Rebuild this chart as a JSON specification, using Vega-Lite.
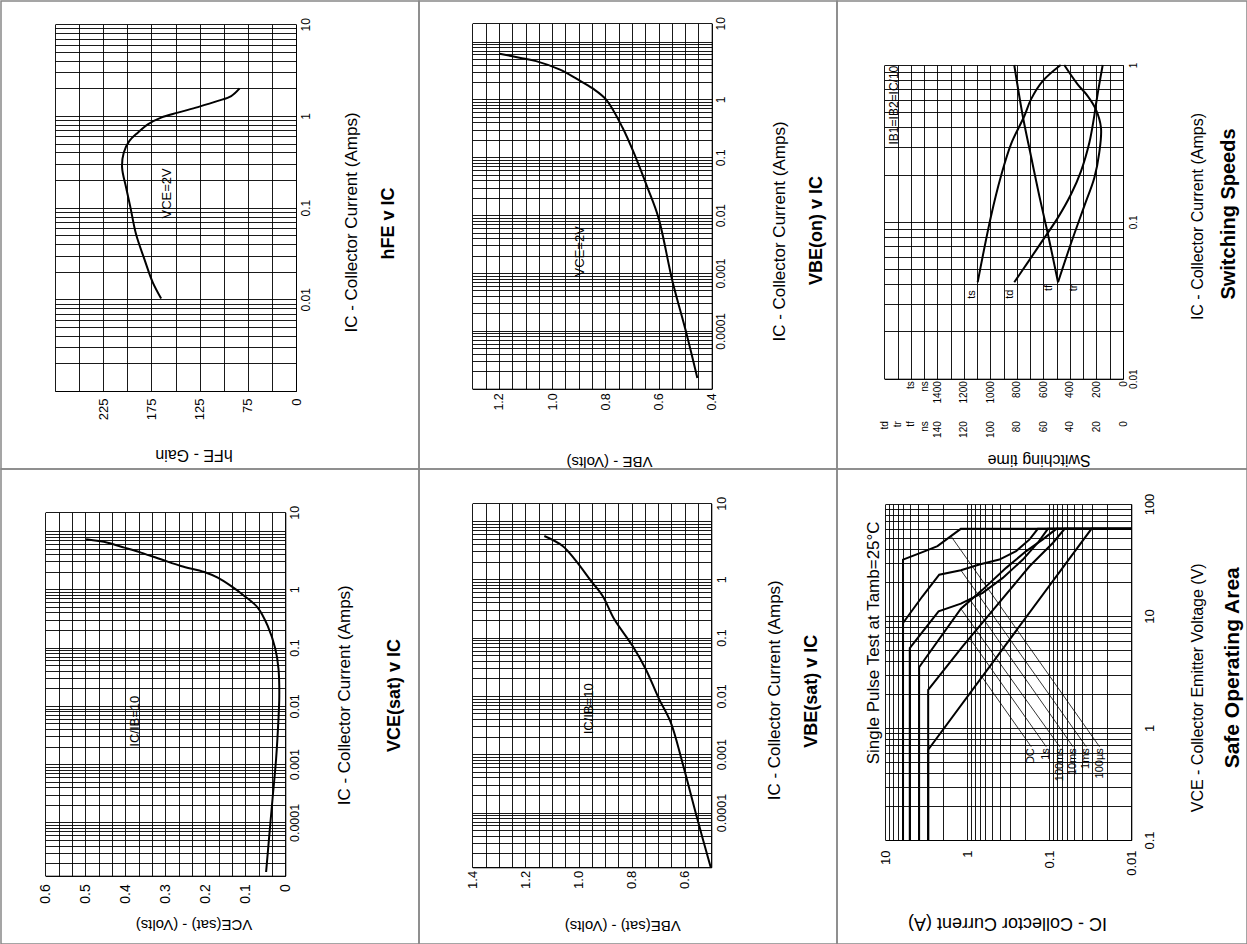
{
"$schema": "https://vega.github.io/schema/vega-lite/v6.json",
"padding": 0,
"background": "white",
"config": {
  "font": "Liberation Sans",
  "view": {"stroke": "#888888", "strokeWidth": 1.5},
  "axis": {"labelFont": "Liberation Sans", "titleFont": "Liberation Sans", "labelColor": "#000", "titleColor": "#000", "titleFontWeight": "normal", "ticks": false, "tickSize": 0, "domainColor": "#000", "domainWidth": 1, "gridColor": "#000", "gridOpacity": 1, "gridWidth": 0.9, "labelOverlap": false, "labelFlush": false, "titleAlign": "center", "titleBaseline": "middle"},
  "axisRight": {"labelAngle": 270, "labelAlign": "center", "labelBaseline": "top", "titleAngle": 270},
  "axisBottom": {"labelAngle": 270, "labelAlign": "right", "labelBaseline": "middle", "titleAngle": 180},
  "axisLeft": {"labels": false, "domain": false, "titleAngle": 270, "titleFontWeight": "bold"},
  "axisTop": {"labels": false, "domain": false, "titleAngle": 270, "titleFontWeight": "bold"},
  "text": {"font": "Liberation Sans", "color": "#000"}
},
"columns": 3,
"spacing": 0,
"bounds": "flush",
"concat": [
{
  "width": 418, "height": 468,
  "layer": [
    {
      "data": {"values": [
        {"Ic": 0.0102, "hFE": 164.9}, {"Ic": 0.0152, "hFE": 173.5}, {"Ic": 0.0273, "hFE": 182.2}, {"Ic": 0.0512, "hFE": 190.9},
        {"Ic": 0.1, "hFE": 196.7}, {"Ic": 0.165, "hFE": 201.2}, {"Ic": 0.273, "hFE": 205.4}, {"Ic": 0.398, "hFE": 203.7},
        {"Ic": 0.534, "hFE": 197.8}, {"Ic": 0.658, "hFE": 189.1}, {"Ic": 0.811, "hFE": 178.7}, {"Ic": 0.959, "hFE": 164.9},
        {"Ic": 1.087, "hFE": 147.6}, {"Ic": 1.25, "hFE": 126.8}, {"Ic": 1.46, "hFE": 106.0}, {"Ic": 1.65, "hFE": 92.2}, {"Ic": 2.0, "hFE": 83.5}
      ]},
      "mark": {"type": "line", "strokeWidth": 2, "interpolate": "catmull-rom", "color": "#000"},
      "encoding": {
        "x": {"field": "hFE", "type": "quantitative",
          "scale": {"domain": [25, 275], "range": [295, 54], "nice": false, "zero": false},
          "axis": {"orient": "bottom", "offset": -78, "grid": false, "labelOverlap": false,
            "values": [25, 75, 125, 175, 225],
            "labelExpr": "datum.value == 25 ? '0' : format(datum.value, 'd')",
            "labelFontSize": 13, "labelPadding": 7,
            "title": "hFE - Gain", "titleFontSize": 16, "titleX": 192.5, "titleY": 63.3}},
        "y": {"field": "Ic", "type": "quantitative",
          "scale": {"type": "log", "domain": [0.001, 10], "range": [390, 23.3], "nice": false},
          "axis": {"orient": "right", "offset": -123, "grid": false, "labelOverlap": false,
            "values": [0.01, 0.1, 1, 10],
            "labelExpr": "format(datum.value, '~g')",
            "labelFontSize": 12, "labelPadding": 4,
            "title": "IC - Collector Current (Amps)", "titleFontSize": 17, "titleX": 55.7, "titleY": 221}},
        "order": {"field": "Ic", "type": "quantitative"}
      }
    },
    {
      "data": {"values": [{"hFE": 159.1, "Ic": 0.143, "t": "VCE=2V"}]},
      "mark": {"type": "text", "angle": 270, "fontSize": 13, "align": "center", "baseline": "middle"},
      "encoding": {
        "x": {"field": "hFE", "type": "quantitative", "scale": {"domain": [25, 275], "range": [295, 54], "nice": false, "zero": false},
          "axis": {"orient": "top", "grid": true, "title": null, "values": [25, 50, 75, 100, 125, 150, 175, 200, 225, 250, 275]}},
        "y": {"field": "Ic", "type": "quantitative", "scale": {"type": "log", "domain": [0.001, 10], "range": [390, 23.3], "nice": false},
          "axis": {"orient": "left", "grid": true,
            "values": [0.001,0.002,0.003,0.004,0.005,0.006,0.007,0.008,0.009,0.01,0.02,0.03,0.04,0.05,0.06,0.07,0.08,0.09,0.1,0.2,0.3,0.4,0.5,0.6,0.7,0.8,0.9,1,2,3,4,5,6,7,8,9,10],
            "title": "hFE v IC", "titleFontSize": 18, "titleX": 387.3, "titleY": 222}},
        "text": {"field": "t"}
      }
    }
  ],
  "resolve": {"axis": {"x": "independent", "y": "independent"}}
},
{
  "width": 418, "height": 468,
  "layer": [
    {
      "data": {"values": [
        {"Ic": 1.53e-5, "V": 0.454}, {"Ic": 1e-4, "V": 0.4975}, {"Ic": 7.2e-4, "V": 0.5475}, {"Ic": 0.00897, "V": 0.6},
        {"Ic": 0.0296, "V": 0.641}, {"Ic": 0.098, "V": 0.685}, {"Ic": 0.324, "V": 0.735}, {"Ic": 1.0, "V": 0.7975},
        {"Ic": 1.55, "V": 0.8475}, {"Ic": 2.22, "V": 0.904}, {"Ic": 3.3, "V": 0.9725}, {"Ic": 4.6, "V": 1.06},
        {"Ic": 5.26, "V": 1.1225}, {"Ic": 6.17, "V": 1.1975}
      ]},
      "mark": {"type": "line", "strokeWidth": 2, "interpolate": "catmull-rom", "color": "#000"},
      "encoding": {
        "x": {"field": "V", "type": "quantitative",
          "scale": {"domain": [0.4, 1.3], "range": [292.7, 53.3], "nice": false, "zero": false},
          "axis": {"orient": "bottom", "offset": -80.3, "grid": false, "labelOverlap": false,
            "values": [0.4, 0.6, 0.8, 1, 1.2],
            "labelExpr": "format(datum.value, '.1f')",
            "labelFontSize": 12.5, "labelPadding": 4,
            "title": "VBE - (Volts)", "titleFontSize": 15, "titleX": 190, "titleY": 72.3}},
        "y": {"field": "Ic", "type": "quantitative",
          "scale": {"type": "log", "domain": [1e-5, 20.7], "range": [387.7, 22.3], "nice": false},
          "axis": {"orient": "right", "offset": -125.3, "grid": false, "labelOverlap": false,
            "values": [0.0001, 0.001, 0.01, 0.1, 1, 20.7],
            "labelExpr": "datum.value == 20.7 ? '10' : format(datum.value, '~g')",
            "labelFontSize": 12, "labelPadding": 4,
            "title": "IC - Collector Current (Amps)", "titleFontSize": 17, "titleX": 67.8, "titleY": 230}},
        "order": {"field": "Ic", "type": "quantitative"}
      }
    },
    {
      "data": {"values": [{"V": 0.895, "Ic": 0.00237, "t": "VCE=2V"}]},
      "mark": {"type": "text", "angle": 270, "fontSize": 13, "align": "center", "baseline": "middle"},
      "encoding": {
        "x": {"field": "V", "type": "quantitative", "scale": {"domain": [0.4, 1.3], "range": [292.7, 53.3], "nice": false, "zero": false},
          "axis": {"orient": "top", "grid": true, "title": null, "values": [0.4,0.45,0.5,0.55,0.6,0.65,0.7,0.75,0.8,0.85,0.9,0.95,1,1.05,1.1,1.15,1.2,1.25,1.3]}},
        "y": {"field": "Ic", "type": "quantitative", "scale": {"type": "log", "domain": [1e-5, 20.7], "range": [387.7, 22.3], "nice": false},
          "axis": {"orient": "left", "grid": true,
            "values": [1e-5,2e-5,3e-5,4e-5,5e-5,6e-5,7e-5,8e-5,9e-5,0.0001,0.0002,0.0003,0.0004,0.0005,0.0006,0.0007,0.0008,0.0009,0.001,0.002,0.003,0.004,0.005,0.006,0.007,0.008,0.009,0.01,0.02,0.03,0.04,0.05,0.06,0.07,0.08,0.09,0.1,0.2,0.3,0.4,0.5,0.6,0.7,0.8,0.9,1,2,3,4,5,6,7,8,9,10,20.7],
            "title": "VBE(on) v IC", "titleFontSize": 18, "titleX": 397.5, "titleY": 229}},
        "text": {"field": "t"}
      }
    }
  ],
  "resolve": {"axis": {"x": "independent", "y": "independent"}}
},
{
  "width": 410, "height": 468,
  "layer": [
    {
      "layer": [
        {
          "data": {"values": [
            {"Ic": 0.0412, "ns": 1096}, {"Ic": 0.109, "ns": 995}, {"Ic": 0.196, "ns": 920}, {"Ic": 0.312, "ns": 845},
            {"Ic": 0.473, "ns": 744}, {"Ic": 0.604, "ns": 694}, {"Ic": 0.79, "ns": 606}, {"Ic": 1, "ns": 470}
          ]},
          "mark": {"type": "line", "strokeWidth": 2, "interpolate": "catmull-rom", "color": "#000"},
          "encoding": {
            "x": {"field": "ns", "type": "quantitative",
              "scale": {"domain": [0, 1800], "range": [286, 47.3], "nice": false, "zero": false},
              "axis": {"orient": "bottom", "offset": -90.3, "grid": false, "labelOverlap": false,
                "values": [0, 200, 400, 600, 800, 1000, 1200, 1400, 1500, 1600],
                "labelExpr": "datum.value == 1500 ? 'ns' : datum.value == 1600 ? 'ts' : format(datum.value, 'd')",
                "labelFontSize": 10, "labelPadding": 2, "title": null}},
            "y": {"field": "Ic", "type": "quantitative",
              "scale": {"type": "log", "domain": [0.01, 1], "range": [377.7, 64], "nice": false},
              "axis": {"orient": "right", "offset": -124, "grid": false, "labelOverlap": false,
                "values": [0.01, 0.1, 1],
                "labelExpr": "format(datum.value, '~g')",
                "labelFontSize": 10, "labelPadding": 5,
                "title": "IC - Collector Current (Amps)", "titleFontSize": 16, "titleX": 74, "titleY": 215}},
            "order": {"field": "Ic", "type": "quantitative"}
          }
        },
        {
          "data": {"values": [
            {"ns": 1138, "Ic": 0.0344, "t": "ts", "fs": "small"},
            {"ns": 850, "Ic": 0.0346, "t": "td", "fs": "small"},
            {"ns": 560, "Ic": 0.0379, "t": "tf", "fs": "small"},
            {"ns": 372, "Ic": 0.0379, "t": "tr", "fs": "small"},
            {"ns": 1729, "Ic": 0.555, "t": "IB1=IB2=IC/10", "fs": "big"}
          ]},
          "mark": {"type": "text", "angle": 270, "align": "center", "baseline": "middle"},
          "encoding": {
            "x": {"field": "ns", "type": "quantitative", "scale": {"domain": [0, 1800], "range": [286, 47.3], "nice": false, "zero": false},
              "axis": {"orient": "top", "grid": true, "title": null, "values": [0,100,200,300,400,500,600,700,800,900,1000,1100,1200,1300,1400,1500,1600,1700,1800]}},
            "y": {"field": "Ic", "type": "quantitative", "scale": {"type": "log", "domain": [0.01, 1], "range": [377.7, 64], "nice": false}},
            "size": {"field": "fs", "type": "nominal", "scale": {"domain": ["small", "big"], "range": [11, 12]}, "legend": null},
            "text": {"field": "t"}
          }
        }
      ],
      "resolve": {"axis": {"x": "independent"}}
    },
    {
      "data": {"values": [
        {"s": "td", "Ic": 0.0412, "ns2": 82}, {"s": "td", "Ic": 0.055, "ns2": 71.9}, {"s": "td", "Ic": 0.079, "ns2": 59.3},
        {"s": "td", "Ic": 0.106, "ns2": 49.2}, {"s": "td", "Ic": 0.15, "ns2": 39.2}, {"s": "td", "Ic": 0.21, "ns2": 31.7},
        {"s": "td", "Ic": 0.319, "ns2": 25.4}, {"s": "td", "Ic": 0.45, "ns2": 22.1}, {"s": "td", "Ic": 0.56, "ns2": 20.4},
        {"s": "td", "Ic": 0.753, "ns2": 17.9}, {"s": "td", "Ic": 1, "ns2": 15.3},
        {"s": "tf", "Ic": 0.0412, "ns2": 49}, {"s": "tf", "Ic": 0.085, "ns2": 56.8}, {"s": "tf", "Ic": 0.146, "ns2": 63.1},
        {"s": "tf", "Ic": 0.263, "ns2": 69.4}, {"s": "tf", "Ic": 0.473, "ns2": 75.6}, {"s": "tf", "Ic": 1, "ns2": 82},
        {"s": "tr", "Ic": 0.0412, "ns2": 49}, {"s": "tr", "Ic": 0.073, "ns2": 39.2}, {"s": "tr", "Ic": 0.126, "ns2": 29.2},
        {"s": "tr", "Ic": 0.191, "ns2": 21.6}, {"s": "tr", "Ic": 0.276, "ns2": 17.9}, {"s": "tr", "Ic": 0.398, "ns2": 16.6},
        {"s": "tr", "Ic": 0.52, "ns2": 20.4}, {"s": "tr", "Ic": 0.634, "ns2": 26.6}, {"s": "tr", "Ic": 0.753, "ns2": 34.2},
        {"s": "tr", "Ic": 1, "ns2": 44.3}
      ]},
      "mark": {"type": "line", "strokeWidth": 2, "interpolate": "catmull-rom", "color": "#000"},
      "encoding": {
        "x": {"field": "ns2", "type": "quantitative",
          "scale": {"domain": [0, 180], "range": [286, 47.3], "nice": false, "zero": false},
          "axis": {"orient": "bottom", "offset": -50.3, "grid": false, "domain": false, "labelOverlap": false,
            "values": [0, 20, 40, 60, 80, 100, 120, 140, 150, 160, 170, 180],
            "labelExpr": "datum.value == 150 ? 'ns' : datum.value == 160 ? 'tf' : datum.value == 170 ? 'tr' : datum.value == 180 ? 'td' : format(datum.value, 'd')",
            "labelFontSize": 10, "labelPadding": 2,
            "title": "Switching time", "titleFontSize": 16, "titleX": 201.7, "titleY": 40.6}},
        "y": {"field": "Ic", "type": "quantitative",
          "scale": {"type": "log", "domain": [0.01, 1], "range": [377.7, 64], "nice": false},
          "axis": {"orient": "left", "grid": true,
            "values": [0.01,0.02,0.03,0.04,0.05,0.06,0.07,0.08,0.09,0.1,0.2,0.3,0.4,0.5,0.6,0.7,0.8,0.9,1],
            "title": "Switching Speeds", "titleFontSize": 20, "titleX": 391.7, "titleY": 212.5}},
        "detail": {"field": "s"},
        "order": {"field": "Ic", "type": "quantitative"}
      }
    }
  ],
  "resolve": {"scale": {"x": "independent"}, "axis": {"x": "independent", "y": "independent"}}
},
{
  "width": 418, "height": 475,
  "layer": [
    {
      "data": {"values": [
        {"Ic": 1.41e-5, "V": 0.048}, {"Ic": 6e-5, "V": 0.04}, {"Ic": 2.5e-4, "V": 0.032}, {"Ic": 1.23e-3, "V": 0.023},
        {"Ic": 5.25e-3, "V": 0.0175}, {"Ic": 0.015, "V": 0.015}, {"Ic": 0.043, "V": 0.017}, {"Ic": 0.095, "V": 0.025},
        {"Ic": 0.235, "V": 0.044}, {"Ic": 0.485, "V": 0.069}, {"Ic": 0.769, "V": 0.1025}, {"Ic": 1.14, "V": 0.136},
        {"Ic": 1.58, "V": 0.169}, {"Ic": 1.98, "V": 0.2025}, {"Ic": 2.51, "V": 0.261}, {"Ic": 3.27, "V": 0.311},
        {"Ic": 4.25, "V": 0.361}, {"Ic": 5.18, "V": 0.4025}, {"Ic": 6.3, "V": 0.444}, {"Ic": 7.2, "V": 0.498}
      ]},
      "mark": {"type": "line", "strokeWidth": 2, "interpolate": "catmull-rom", "color": "#000"},
      "encoding": {
        "x": {"field": "V", "type": "quantitative",
          "scale": {"domain": [0, 0.6], "range": [284.3, 44.3], "nice": false, "zero": false},
          "axis": {"orient": "bottom", "offset": -68.3, "grid": false, "labelOverlap": false,
            "values": [0, 0.1, 0.2, 0.3, 0.4, 0.5, 0.6],
            "labelExpr": "datum.value == 0 ? '0' : format(datum.value, '.1f')",
            "labelFontSize": 14, "labelPadding": 8,
            "title": "VCE(sat) - (Volts)", "titleFontSize": 15, "titleX": 192.5, "titleY": 48.3}},
        "y": {"field": "Ic", "type": "quantitative",
          "scale": {"type": "log", "domain": [1.22e-5, 20.9], "range": [406.7, 43.3], "nice": false},
          "axis": {"orient": "right", "offset": -133.7, "grid": false, "labelOverlap": false,
            "values": [0.0001, 0.001, 0.01, 0.1, 1, 20.9],
            "labelExpr": "datum.value == 20.9 ? '10' : format(datum.value, '~g')",
            "labelFontSize": 12.5, "labelPadding": 3,
            "title": "IC - Collector Current (Amps)", "titleFontSize": 17, "titleX": 59.5, "titleY": 225.8}},
        "order": {"field": "Ic", "type": "quantitative"}
      }
    },
    {
      "data": {"values": [{"V": 0.3758, "Ic": 0.00544, "t": "IC/IB=10"}]},
      "mark": {"type": "text", "angle": 270, "fontSize": 13, "align": "center", "baseline": "middle"},
      "encoding": {
        "x": {"field": "V", "type": "quantitative", "scale": {"domain": [0, 0.6], "range": [284.3, 44.3], "nice": false, "zero": false},
          "axis": {"orient": "top", "grid": true, "title": null, "values": [0,0.0333333,0.0666667,0.1,0.1333333,0.1666667,0.2,0.2333333,0.2666667,0.3,0.3333333,0.3666667,0.4,0.4333333,0.4666667,0.5,0.5333333,0.5666667,0.6]}},
        "y": {"field": "Ic", "type": "quantitative", "scale": {"type": "log", "domain": [1.22e-5, 20.9], "range": [406.7, 43.3], "nice": false},
          "axis": {"orient": "left", "grid": true,
            "values": [1.22e-5,2e-5,3e-5,4e-5,5e-5,6e-5,7e-5,8e-5,9e-5,0.0001,0.0002,0.0003,0.0004,0.0005,0.0006,0.0007,0.0008,0.0009,0.001,0.002,0.003,0.004,0.005,0.006,0.007,0.008,0.009,0.01,0.02,0.03,0.04,0.05,0.06,0.07,0.08,0.09,0.1,0.2,0.3,0.4,0.5,0.6,0.7,0.8,0.9,1,2,3,4,5,6,7,8,9,10,20.9],
            "title": "VCE(sat) v IC", "titleFontSize": 18, "titleX": 393.3, "titleY": 226}},
        "text": {"field": "t"}
      }
    }
  ],
  "resolve": {"axis": {"x": "independent", "y": "independent"}}
},
{
  "width": 418, "height": 475,
  "layer": [
    {
      "data": {"values": [
        {"Ic": 1.16e-5, "V": 0.5025}, {"Ic": 7.8e-5, "V": 0.5527}, {"Ic": 7.3e-4, "V": 0.6092}, {"Ic": 3.54e-3, "V": 0.6531},
        {"Ic": 8.9e-3, "V": 0.697}, {"Ic": 0.029, "V": 0.7472}, {"Ic": 0.073, "V": 0.7974}, {"Ic": 0.206, "V": 0.8652},
        {"Ic": 0.518, "V": 0.9091}, {"Ic": 0.936, "V": 0.9531}, {"Ic": 2.06, "V": 1.0095}, {"Ic": 3.73, "V": 1.0597}, {"Ic": 5.53, "V": 1.1288}
      ]},
      "mark": {"type": "line", "strokeWidth": 2, "interpolate": "catmull-rom", "color": "#000"},
      "encoding": {
        "x": {"field": "V", "type": "quantitative",
          "scale": {"domain": [0.5, 1.4], "range": [292.3, 53.3], "nice": false, "zero": false},
          "axis": {"orient": "bottom", "offset": -76.7, "grid": false, "labelOverlap": false,
            "values": [0.6, 0.8, 1, 1.2, 1.4],
            "labelExpr": "format(datum.value, '.1f')",
            "labelFontSize": 13, "labelPadding": 3,
            "title": "VBE(sat) - (Volts)", "titleFontSize": 15, "titleX": 203.3, "titleY": 58.4}},
        "y": {"field": "Ic", "type": "quantitative",
          "scale": {"type": "log", "domain": [1.15e-5, 20.1], "range": [398.3, 34.3], "nice": false},
          "axis": {"orient": "right", "offset": -125.7, "grid": false, "labelOverlap": false,
            "values": [0.0001, 0.001, 0.01, 0.1, 1, 20.1],
            "labelExpr": "datum.value == 20.1 ? '10' : format(datum.value, '~g')",
            "labelFontSize": 12.5, "labelPadding": 4,
            "title": "IC - Collector Current (Amps)", "titleFontSize": 17, "titleX": 62.7, "titleY": 220.8}},
        "order": {"field": "Ic", "type": "quantitative"}
      }
    },
    {
      "data": {"values": [{"V": 0.9606, "Ic": 0.006, "t": "IC/IB=10"}]},
      "mark": {"type": "text", "angle": 270, "fontSize": 13, "align": "center", "baseline": "middle"},
      "encoding": {
        "x": {"field": "V", "type": "quantitative", "scale": {"domain": [0.5, 1.4], "range": [292.3, 53.3], "nice": false, "zero": false},
          "axis": {"orient": "top", "grid": true, "title": null, "values": [0.5,0.55,0.6,0.65,0.7,0.75,0.8,0.85,0.9,0.95,1,1.05,1.1,1.15,1.2,1.25,1.3,1.35,1.4]}},
        "y": {"field": "Ic", "type": "quantitative", "scale": {"type": "log", "domain": [1.15e-5, 20.1], "range": [398.3, 34.3], "nice": false},
          "axis": {"orient": "left", "grid": true,
            "values": [1.15e-5,2e-5,3e-5,4e-5,5e-5,6e-5,7e-5,8e-5,9e-5,0.0001,0.0002,0.0003,0.0004,0.0005,0.0006,0.0007,0.0008,0.0009,0.001,0.002,0.003,0.004,0.005,0.006,0.007,0.008,0.009,0.01,0.02,0.03,0.04,0.05,0.06,0.07,0.08,0.09,0.1,0.2,0.3,0.4,0.5,0.6,0.7,0.8,0.9,1,2,3,4,5,6,7,8,9,10,20.1],
            "title": "VBE(sat) v IC", "titleFontSize": 18, "titleX": 392.8, "titleY": 221.7}},
        "text": {"field": "t"}
      }
    }
  ],
  "resolve": {"axis": {"x": "independent", "y": "independent"}}
},
{
  "width": 410, "height": 475,
  "layer": [
    {
      "data": {"values": [
        {"s": "100µs", "i": 0, "Ic": 6.08, "V": 0.1}, {"s": "100µs", "i": 1, "Ic": 6.08, "V": 31.9}, {"s": "100µs", "i": 2, "Ic": 3.52, "V": 37.2},
        {"s": "100µs", "i": 3, "Ic": 2.31, "V": 42.1}, {"s": "100µs", "i": 4, "Ic": 1.585, "V": 51.7}, {"s": "100µs", "i": 5, "Ic": 1.2, "V": 60}, {"s": "100µs", "i": 6, "Ic": 0.01, "V": 60},
        {"s": "1ms", "i": 0, "Ic": 6.08, "V": 0.1}, {"s": "1ms", "i": 1, "Ic": 6.08, "V": 8.66}, {"s": "1ms", "i": 2, "Ic": 3.52, "V": 15.0},
        {"s": "1ms", "i": 3, "Ic": 2.2, "V": 23.4}, {"s": "1ms", "i": 4, "Ic": 1.197, "V": 25.6}, {"s": "1ms", "i": 5, "Ic": 0.713, "V": 28.8},
        {"s": "1ms", "i": 6, "Ic": 0.406, "V": 31.9}, {"s": "1ms", "i": 7, "Ic": 0.254, "V": 38.0}, {"s": "1ms", "i": 8, "Ic": 0.174, "V": 48.3},
        {"s": "1ms", "i": 9, "Ic": 0.138, "V": 60}, {"s": "1ms", "i": 10, "Ic": 0.01, "V": 60},
        {"s": "10ms", "i": 0, "Ic": 5.03, "V": 0.1}, {"s": "10ms", "i": 1, "Ic": 5.03, "V": 5.17}, {"s": "10ms", "i": 2, "Ic": 2.24, "V": 11.0},
        {"s": "10ms", "i": 3, "Ic": 1.197, "V": 12.9}, {"s": "10ms", "i": 4, "Ic": 0.649, "V": 16.1}, {"s": "10ms", "i": 5, "Ic": 0.369, "V": 21.9},
        {"s": "10ms", "i": 6, "Ic": 0.21, "V": 31.9}, {"s": "10ms", "i": 7, "Ic": 0.138, "V": 45.1}, {"s": "10ms", "i": 8, "Ic": 0.104, "V": 60},
        {"s": "10ms", "i": 9, "Ic": 0.01, "V": 60},
        {"s": "100ms", "i": 0, "Ic": 3.87, "V": 0.1}, {"s": "100ms", "i": 1, "Ic": 3.87, "V": 3.49}, {"s": "100ms", "i": 2, "Ic": 1.197, "V": 11.6},
        {"s": "100ms", "i": 3, "Ic": 0.649, "V": 17.2}, {"s": "100ms", "i": 4, "Ic": 0.336, "V": 26.9}, {"s": "100ms", "i": 5, "Ic": 0.191, "V": 38},
        {"s": "100ms", "i": 6, "Ic": 0.12, "V": 48.3}, {"s": "100ms", "i": 7, "Ic": 0.082, "V": 60}, {"s": "100ms", "i": 8, "Ic": 0.01, "V": 60},
        {"s": "1s", "i": 0, "Ic": 3.0, "V": 0.1}, {"s": "1s", "i": 1, "Ic": 3.0, "V": 2.19}, {"s": "1s", "i": 2, "Ic": 1.14, "V": 5.35},
        {"s": "1s", "i": 3, "Ic": 0.446, "V": 12.2}, {"s": "1s", "i": 4, "Ic": 0.174, "V": 27.8}, {"s": "1s", "i": 5, "Ic": 0.09, "V": 45.1},
        {"s": "1s", "i": 6, "Ic": 0.065, "V": 60}, {"s": "1s", "i": 7, "Ic": 0.01, "V": 60},
        {"s": "DC", "i": 0, "Ic": 3.0, "V": 0.1}, {"s": "DC", "i": 1, "Ic": 3.0, "V": 0.64}, {"s": "DC", "i": 2, "Ic": 0.0306, "V": 60}, {"s": "DC", "i": 3, "Ic": 0.01, "V": 60}
      ]},
      "mark": {"type": "line", "strokeWidth": 2, "color": "#000"},
      "encoding": {
        "x": {"field": "Ic", "type": "quantitative",
          "scale": {"type": "log", "domain": [0.01, 10], "range": [294.3, 48.3], "nice": false},
          "axis": {"orient": "bottom", "offset": -104, "grid": false, "labelOverlap": false,
            "values": [0.01, 0.1, 1, 10],
            "labelExpr": "format(datum.value, '~g')",
            "labelFontSize": 13, "labelPadding": 10,
            "title": "IC - Collector Current (A)", "titleFontSize": 18, "titleX": 170, "titleY": 82.3}},
        "y": {"field": "V", "type": "quantitative",
          "scale": {"type": "log", "domain": [0.1, 100], "range": [371, 35], "nice": false},
          "axis": {"orient": "right", "offset": -115.7, "grid": false, "labelOverlap": false,
            "values": [0.1, 1, 10, 100],
            "labelExpr": "format(datum.value, '~g')",
            "labelFontSize": 13, "labelPadding": 12,
            "title": "VCE - Collector Emitter Voltage (V)", "titleFontSize": 16, "titleX": 65.7, "titleY": 218.3}},
        "detail": {"field": "s"},
        "order": {"field": "i", "type": "quantitative"}
      }
    },
    {
      "layer": [
        {
          "data": {"values": [
            {"s": "100µs", "i": 0, "Ic": 0.0244, "V": 0.68}, {"s": "100µs", "i": 1, "Ic": 1.585, "V": 51.7},
            {"s": "1ms", "i": 0, "Ic": 0.0354, "V": 0.68}, {"s": "1ms", "i": 1, "Ic": 1.197, "V": 25.6},
            {"s": "10ms", "i": 0, "Ic": 0.0514, "V": 0.68}, {"s": "10ms", "i": 1, "Ic": 0.935, "V": 14.1},
            {"s": "100ms", "i": 0, "Ic": 0.0747, "V": 0.68}, {"s": "100ms", "i": 1, "Ic": 1.197, "V": 11.6},
            {"s": "1s", "i": 0, "Ic": 0.109, "V": 0.68}, {"s": "1s", "i": 1, "Ic": 0.94, "V": 6.36},
            {"s": "DC", "i": 0, "Ic": 0.166, "V": 0.68}, {"s": "DC", "i": 1, "Ic": 0.665, "V": 2.87}
          ]},
          "mark": {"type": "line", "strokeWidth": 0.8, "color": "#000"},
          "encoding": {
            "x": {"field": "Ic", "type": "quantitative",
              "scale": {"type": "log", "domain": [0.01, 10], "range": [294.3, 48.3], "nice": false},
              "axis": {"orient": "top", "grid": true,
                "values": [0.01,0.02,0.03,0.04,0.05,0.06,0.07,0.08,0.09,0.1,0.2,0.3,0.4,0.5,0.6,0.7,0.8,0.9,1,2,3,4,5,6,7,8,9,10],
                "title": "Safe Operating Area", "titleFontSize": 21, "titleX": 395, "titleY": 198.3}},
            "y": {"field": "V", "type": "quantitative",
              "scale": {"type": "log", "domain": [0.1, 100], "range": [371, 35], "nice": false},
              "axis": {"orient": "left", "grid": true,
                "values": [0.1,0.2,0.3,0.4,0.5,0.6,0.7,0.8,0.9,1,2,3,4,5,6,7,8,9,10,20,30,40,50,60,70,80,90,100],
                "title": "Single Pulse Test at Tamb=25°C", "titleFontWeight": "normal", "titleFontSize": 17, "titleX": 36.7, "titleY": 173.3}},
            "detail": {"field": "s"},
            "order": {"field": "i", "type": "quantitative"}
          }
        },
        {
          "data": {"values": [
            {"Ic": 0.166, "V": 0.66, "t": "DC"}, {"Ic": 0.109, "V": 0.66, "t": "1s"}, {"Ic": 0.0747, "V": 0.66, "t": "100ms"},
            {"Ic": 0.0514, "V": 0.66, "t": "10ms"}, {"Ic": 0.0354, "V": 0.66, "t": "1ms"}, {"Ic": 0.0244, "V": 0.66, "t": "100µs"}
          ]},
          "mark": {"type": "text", "angle": 270, "fontSize": 11, "align": "right", "baseline": "middle"},
          "encoding": {
            "x": {"field": "Ic", "type": "quantitative", "scale": {"type": "log", "domain": [0.01, 10], "range": [294.3, 48.3], "nice": false}},
            "y": {"field": "V", "type": "quantitative", "scale": {"type": "log", "domain": [0.1, 100], "range": [371, 35], "nice": false}},
            "text": {"field": "t"}
          }
        }
      ]
    }
  ],
  "resolve": {"axis": {"x": "independent", "y": "independent"}}
}
]
}
